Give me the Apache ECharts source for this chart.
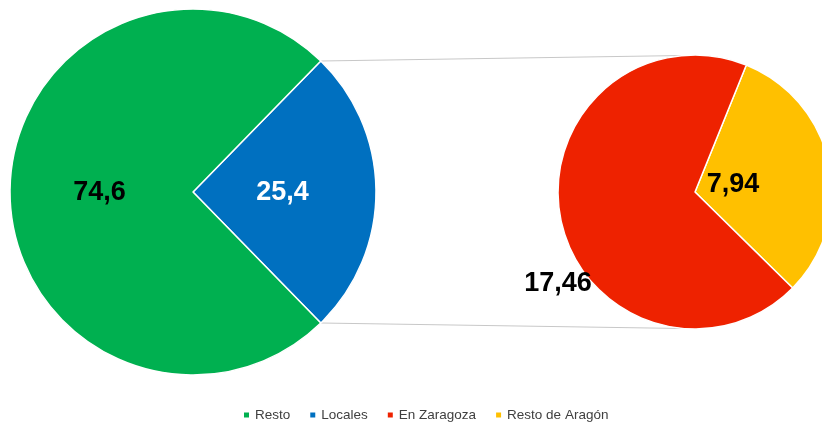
<!DOCTYPE html>
<html>
<head>
<meta charset="utf-8">
<script src="https://cdn.jsdelivr.net/npm/echarts@6/dist/echarts.min.js"></script>
<style>
  html, body { margin: 0; padding: 0; background: #fff; }
  #chart { width: 822px; height: 423px; }
</style>
</head>
<body>
<div id="chart"></div>
<script>
  // datos
  var mainNames = ['Resto', 'Locales'];
  var mainValues = [74.6, 25.4];
  var subNames = ['Resto de Aragón', 'En Zaragoza'];
  var subValues = [7.94, 17.46];
  var legendNames = ['Resto', 'Locales', 'En Zaragoza', 'Resto de Aragón'];

  var colors = { 'Resto': '#00B050', 'Locales': '#0070C0', 'En Zaragoza': '#EE2200', 'Resto de Aragón': '#FFC000' };

  // geometria de las dos tartas
  var c1 = [193, 192], r1 = 183;
  var c2 = [695, 192], r2 = 137;
  var total1 = mainValues[0] + mainValues[1];
  var locAngle = mainValues[1] / total1 * 360;
  var start1 = locAngle / 2;          // Locales centrado a la derecha
  var start2 = 68;

  function fmt(v) { return String(v).replace('.', ','); }

  function mk(names, values, extra) {
    return names.map(function (n, i) {
      var d = { name: n, value: values[i], itemStyle: { color: colors[n] } };
      if (extra && extra[n]) d.label = extra[n];
      return d;
    });
  }

  function pt(c, r, deg) {
    var a = deg * Math.PI / 180;
    return [c[0] + r * Math.cos(a), c[1] - r * Math.sin(a)];
  }

  var myChart = echarts.init(document.getElementById('chart'));

  var labelBase = {
    show: true, position: 'inside', fontFamily: 'Liberation Sans, Arial, sans-serif',
    fontWeight: 'bold', fontSize: 27, color: '#000',
    formatter: function (p) { return fmt(p.value); }
  };

  // lineas de union
  var pA = pt(c1, r1, start1), pB = pt(c1, r1, -start1);
  var pC = pt(c2, r2, 95), pD = pt(c2, r2, 265);

  var option = {
    animation: false,
    legend: {
      data: legendNames,
      top: 403,
      left: 237,
      icon: 'rect',
      itemWidth: 7,
      itemHeight: 7,
      itemGap: 18,
      textStyle: { fontFamily: 'Liberation Sans, Arial, sans-serif', fontSize: 13.5, color: '#404040' }
    },
    graphic: [
      { type: 'line', z: 0, shape: { x1: pA[0], y1: pA[1], x2: pC[0], y2: pC[1] }, style: { stroke: '#C8C8C8', lineWidth: 1.2 } },
      { type: 'line', z: 0, shape: { x1: pB[0], y1: pB[1], x2: pD[0], y2: pD[1] }, style: { stroke: '#C8C8C8', lineWidth: 1.2 } }
    ],
    series: [
      {
        type: 'pie',
        center: c1,
        radius: r1,
        startAngle: start1,
        clockwise: true,
        label: labelBase,
        labelLine: { show: false },
        itemStyle: { borderColor: '#fff', borderWidth: 1.5 },
        emphasis: { disabled: true },
        data: mk(['Locales', 'Resto'], [mainValues[1], mainValues[0]], {
          'Locales': { color: '#fff', offset: [-5, 1] },
          'Resto': { offset: [1, 1] }
        })
      },
      {
        type: 'pie',
        center: c2,
        radius: r2,
        startAngle: start2,
        clockwise: true,
        label: labelBase,
        labelLine: { show: false },
        itemStyle: { borderColor: '#fff', borderWidth: 1.5 },
        emphasis: { disabled: true },
        data: mk(subNames, subValues, {
          'Resto de Aragón': { offset: [-32, 7] },
          'En Zaragoza': { offset: [-67, 77] }
        })
      }
    ]
  };
  myChart.setOption(option);
</script>
</body>
</html>
